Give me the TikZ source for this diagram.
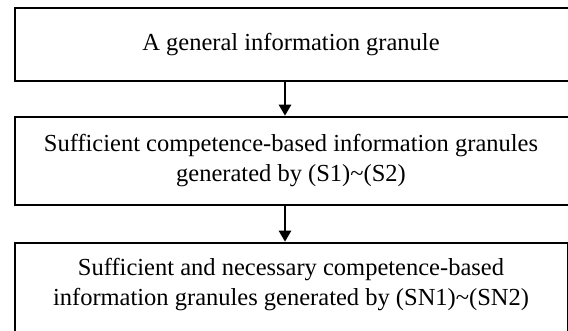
\documentclass[tikz,border=0pt]{standalone}
\usepackage{fontspec}
\setmainfont{Liberation Serif}
\usetikzlibrary{arrows.meta}
\begin{document}
\begin{tikzpicture}[x=1pt,y=-1pt,
  stagebox/.style={draw=black,line width=2.6pt,fill=white},
  stagetext/.style={align=center,font=\fontsize{24.5}{30}\selectfont,inner sep=0pt},
  flow/.style={line width=2.6pt,-{Triangle[width=12pt,length=11pt]}}]
  \useasboundingbox (0,0) rectangle (568,330);
  % the three stages, running off the right and bottom edges
  \begin{scope}
    \clip (0,0) rectangle (568,330);
    \draw[stagebox] (15,8) rectangle (569,81);
    \draw[stagebox] (15,117) rectangle (569,205);
    \draw[stagebox] (15,243) rectangle (568.6,333);
  \end{scope}
  \coordinate (b1b) at (285,81);
  \coordinate (b2t) at (285,117);
  \coordinate (b2b) at (285,205);
  \coordinate (b3t) at (285,243);
  \node[stagetext] (s1) at (291,44.5) {A general information granule};
  \node[stagetext] (s2) at (291,161) {Sufficient competence-based information granules\\generated by (S1)\textasciitilde(S2)};
  \node[stagetext] (s3) at (291,285) {Sufficient and necessary competence-based\\information granules generated by (SN1)\textasciitilde(SN2)};
  % connectors
  \draw[flow] ([yshift=-1.3pt]b1b) -- ([yshift=1.3pt]b2t);
  \draw[flow] ([yshift=-1.3pt]b2b) -- ([yshift=1.3pt]b3t);
\end{tikzpicture}
\end{document}
